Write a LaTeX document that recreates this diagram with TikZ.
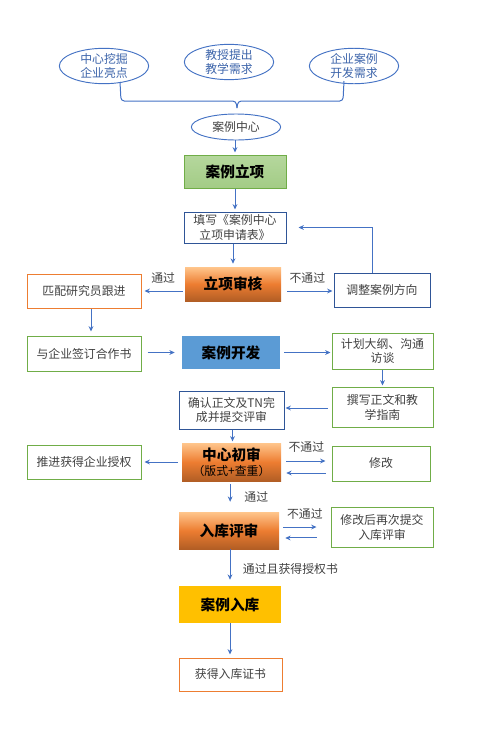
\documentclass[tikz,border=0pt]{standalone}
\usepackage{fontspec}
\setmainfont{Noto Sans CJK SC}
\usetikzlibrary{arrows.meta, shapes.geometric, positioning, calc}

\definecolor{arrowblue}{HTML}{4472C4}
\definecolor{darkblue}{HTML}{2F5597}
\definecolor{ovaltext}{HTML}{3C64AA}
\definecolor{boxgreen}{HTML}{70AD47}
\definecolor{greentop}{HTML}{B5D79D}
\definecolor{greenbottom}{HTML}{A3CC86}
\definecolor{boxorange}{HTML}{ED7D31}
\definecolor{textgray}{HTML}{404040}
\definecolor{devblue}{HTML}{5B9BD5}
\definecolor{gold}{HTML}{FFC000}

\begin{document}
\begin{tikzpicture}[
    x=0.75pt, y=-0.75pt,
    oval/.style={ellipse, draw=arrowblue, line width=0.7pt, fill=white, minimum width=67pt, minimum height=24pt, inner sep=0pt, align=center, text=ovaltext, font=\fontsize{8.9}{10.5}\selectfont},
    box/.style={rectangle, draw, line width=0.75pt, inner sep=0pt, align=center, text=textgray, font=\fontsize{8.9}{11.2}\selectfont},
    stage/.style={rectangle, inner sep=0pt, align=center, text=black, font=\fontsize{11}{13}\selectfont\bfseries},
    hot/.style={stage, top color=orange!45!white, bottom color=boxorange!75!black, middle color=boxorange},
    arrow/.style={-{Stealth[length=4pt, width=3.6pt]}, draw=arrowblue, line width=0.75pt},
    label/.style={font=\fontsize{8.9}{10}\selectfont, text=textgray}
]
\useasboundingbox (0,0) rectangle (481,729);

% Sources
\node[oval] (mine) at (104,66) {中心挖掘\\企业亮点};
\node[oval] (teach) at (229,62) {教授提出\\教学需求};
\node[oval] (firm) at (354,66) {企业案例\\开发需求};
\node[oval, minimum height=19.5pt, text=textgray] (hub) at (236,127) {案例中心};

% Brace joining the sources
\draw[arrowblue, line width=0.75pt, rounded corners=2.5pt]
    (120,82) -- (121,101) -- (236,101) -- (237,108);
\draw[arrowblue, line width=0.75pt, rounded corners=2.5pt]
    (237,108) -- (238,101) -- (343,101) -- (344,81);

% Row 1: project set up and review
\node[stage, top color=greentop, bottom color=greenbottom, draw=boxgreen, line width=0.75pt, minimum width=76.5pt, minimum height=24.75pt] (setup) at (235,171.5) {案例立项};
\node[box, draw=darkblue, minimum width=76.5pt, minimum height=23.25pt] (apply) at (235,227.5) {填写《案例中心\\立项申请表》};
\node[hot, minimum width=72pt, minimum height=25.5pt] (review) at (233,284) {立项审核};
\node[box, draw=boxorange, minimum width=85.5pt, minimum height=25.5pt] (match) at (84,291) {匹配研究员跟进};
\node[box, draw=darkblue, minimum width=72pt, minimum height=25.5pt] (adjust) at (382,290) {调整案例方向};

% Row 2: development
\node[box, draw=boxgreen, minimum width=85.5pt, minimum height=26.25pt] (sign) at (84,353.5) {与企业签订合作书};
\node[stage, fill=devblue, minimum width=73.5pt, minimum height=24.75pt] (dev) at (231,352.5) {案例开发};
\node[box, draw=boxgreen, minimum width=75.75pt, minimum height=27pt] (plan) at (382.5,351) {计划大纲、沟通\\访谈};
\node[box, draw=boxgreen, minimum width=75.75pt, minimum height=30pt] (write) at (382.5,407) {撰写正文和教\\学指南};
\node[box, draw=darkblue, minimum width=78.75pt, minimum height=28.5pt] (confirm) at (231.5,410) {确认正文及TN完\\成并提交评审};

% Row 3: reviews
\node[hot, minimum width=74.25pt, minimum height=28.5pt] (initial) at (231.5,462) {中心初审\\[-1.5pt]{\fontsize{8.9}{10}\selectfont\mdseries （版式+查重）}};
\node[box, draw=boxgreen, minimum width=85.5pt, minimum height=25.5pt] (push) at (84,462) {推进获得企业授权};
\node[box, draw=boxgreen, minimum width=73.5pt, minimum height=26.25pt] (modify) at (381,463.5) {修改};
\node[hot, minimum width=75pt, minimum height=27.75pt] (final) at (229,530.5) {入库评审};
\node[box, draw=boxgreen, minimum width=76.5pt, minimum height=30pt] (resub) at (382,527) {修改后再次提交\\入库评审};

% Row 4: storage
\node[stage, fill=gold, minimum width=76.5pt, minimum height=27.75pt] (store) at (230,604.5) {案例入库};
\node[box, draw=boxorange, minimum width=77.25pt, minimum height=24.75pt] (cert) at (230.5,674.5) {获得入库证书};

% Arrows down the middle
\draw[arrow, shorten >=1.5pt] (hub.south -| setup.north) -- (setup.north);
\draw[arrow, shorten >=1.5pt] (setup) -- (apply);
\draw[arrow, shorten >=2.25pt] (apply.south -| review.north) -- (review.north);
\draw[arrow, shorten >=1pt] ([xshift=0.75pt]confirm.south) -- ([xshift=0.75pt]confirm.south |- initial.north);
\draw[arrow, shorten <=2.25pt, shorten >=7.5pt] ([xshift=-1pt]initial.south) -- ([xshift=-1pt]initial.south |- final.north)
    node[midway, right=7pt, label] {通过};
\draw[arrow, shorten >=4.5pt] (final.south -| store.north) -- (store.north)
    node[pos=0.55, right=6pt, label] {通过且获得授权书};
\draw[arrow, shorten >=2.25pt] (store.south) -- (store.south |- cert.north);

% Project review branches
\draw[arrow, shorten <=1.5pt, shorten >=2.25pt] ([yshift=-5.25pt]review.west) -- ([yshift=-5.25pt]review.west -| match.east)
    node[midway, above=2pt, label] {通过};
\draw[arrow, shorten <=4.5pt, shorten >=0.75pt] ([yshift=-5.25pt]review.east) -- ([yshift=-5.25pt]review.east -| adjust.west)
    node[midway, above=2pt, label] {不通过};
\draw[arrow] ([xshift=-7.5pt]adjust.north) |- ([xshift=9pt]apply.east);
\draw[arrow, shorten >=3pt] ([xshift=5.25pt]match.south) -- ([xshift=5.25pt]sign.north);

% Development
\draw[arrow, shorten <=4.5pt, shorten >=5.25pt] (sign.east |- dev.west) -- (dev.west);
\draw[arrow, shorten <=3pt, shorten >=0.75pt] (dev.east) -- (dev.east -| plan.west);
\draw[arrow, shorten >=0.75pt] (plan.south) -- (write.north);
\draw[arrow, shorten <=3pt, shorten >=0.75pt] ([yshift=-0.75pt]write.west) -- ([yshift=-0.75pt]write.west -| confirm.east);

% Initial review branches
\draw[arrow, shorten <=3pt, shorten >=2.25pt] (initial.west) -- (initial.west -| push.east);
\draw[arrow, shorten <=3.75pt, shorten >=4.5pt] ([yshift=0.75pt]initial.east) -- ([yshift=0.75pt]initial.east -| modify.west)
    node[midway, above=3pt, label] {不通过};
\draw[arrow, shorten <=4.5pt, shorten >=3.75pt] ([yshift=-8.25pt]initial.east -| modify.west) -- ([yshift=-8.25pt]initial.east);

% Final review branches
\draw[arrow, shorten <=3pt, shorten >=10.5pt] ([yshift=2.6pt]final.east) -- ([yshift=2.6pt]final.east -| resub.west)
    node[midway, above=2pt, label] {不通过};
\draw[arrow, shorten <=10.5pt, shorten >=4.5pt] ([yshift=-5.6pt]final.east -| resub.west) -- ([yshift=-5.6pt]final.east);

\end{tikzpicture}
\end{document}
